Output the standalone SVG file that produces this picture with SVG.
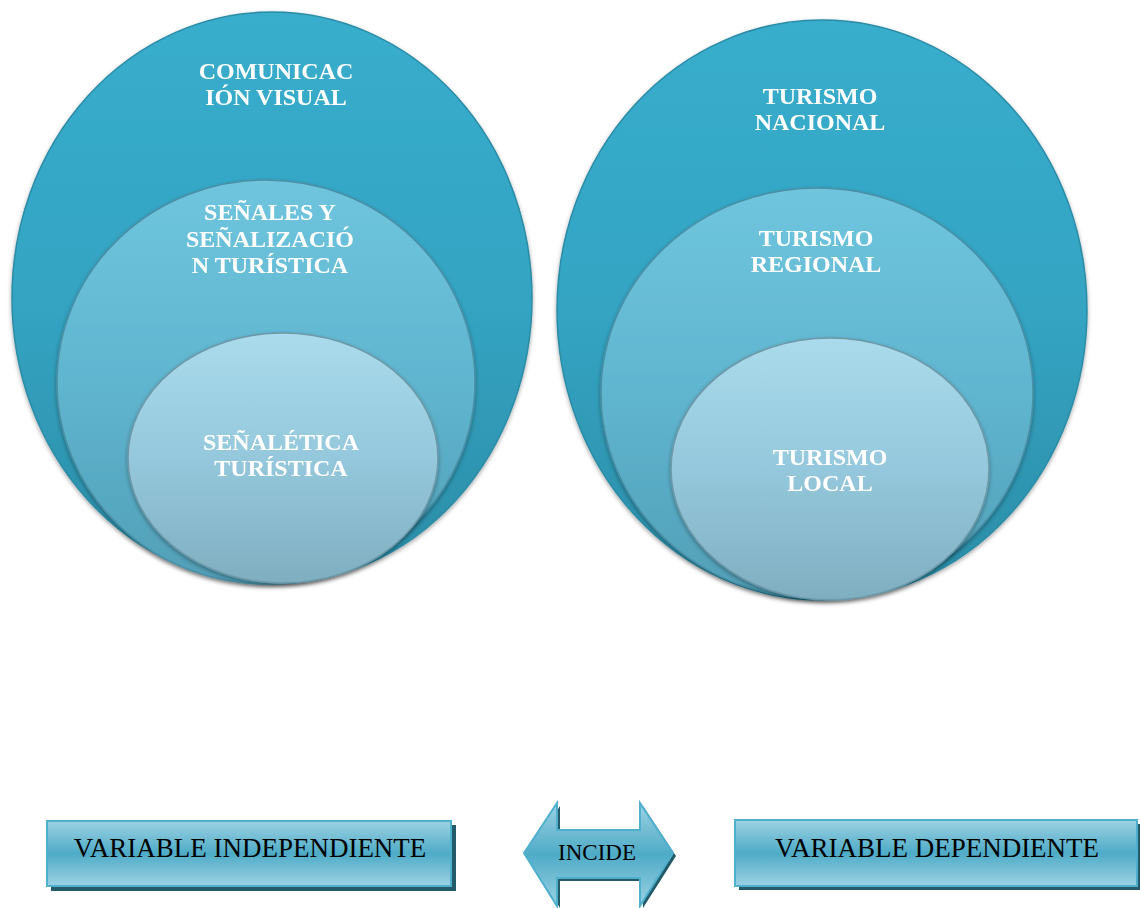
<svg xmlns="http://www.w3.org/2000/svg" width="1140" height="908" viewBox="0 0 1140 908">
<defs>
<linearGradient id="gOuter" x1="0" y1="0" x2="0" y2="1">
<stop offset="0" stop-color="#38adcc"/>
<stop offset="0.5" stop-color="#34a4c3"/>
<stop offset="1" stop-color="#2b8ca6"/>
</linearGradient>
<linearGradient id="gMid" x1="0" y1="0" x2="0" y2="1">
<stop offset="0" stop-color="#6fc5de"/>
<stop offset="0.5" stop-color="#60b5cf"/>
<stop offset="1" stop-color="#519fb7"/>
</linearGradient>
<linearGradient id="gIn" x1="0" y1="0" x2="0" y2="1">
<stop offset="0" stop-color="#a9dbec"/>
<stop offset="0.5" stop-color="#95c8dc"/>
<stop offset="1" stop-color="#80aec1"/>
</linearGradient>
<linearGradient id="gBox" x1="0" y1="0" x2="0" y2="1">
<stop offset="0" stop-color="#9dd2e3"/>
<stop offset="0.5" stop-color="#4eabc7"/>
<stop offset="1" stop-color="#9dd2e3"/>
</linearGradient>
<filter id="sh" x="-10%" y="-10%" width="120%" height="120%">
<feDropShadow dx="0" dy="2" stdDeviation="2" flood-color="#000" flood-opacity="0.35"/>
</filter>
</defs>
<style>
.o{fill:url(#gOuter);stroke:#2b8ca6;stroke-width:1.5}
.m{fill:url(#gMid);stroke:#4a8fa5;stroke-width:1.5}
.i{fill:url(#gIn);stroke:#6d98a8;stroke-width:1.5}
.t{font-family:"Liberation Serif",serif;font-weight:bold;font-size:24px;fill:#ffffff;text-anchor:middle}
.b{font-family:"Liberation Serif",serif;font-size:27px;fill:#000;text-anchor:middle}
.box{fill:url(#gBox);stroke:#4eb0cc;stroke-width:2}
.bs{fill:#235b6b}
</style>

<g id="left-outer" filter="url(#sh)">
<ellipse class="o" cx="272" cy="298" rx="260" ry="286"/>
<text class="t" x="276" y="79">COMUNICAC</text>
<text class="t" x="276" y="105">IÓN VISUAL</text>
</g>
<g id="left-middle" filter="url(#sh)">
<ellipse class="m" cx="266" cy="382" rx="209" ry="202"/>
<text class="t" x="270" y="220">SEÑALES Y</text>
<text class="t" x="270" y="247">SEÑALIZACIÓ</text>
<text class="t" x="270" y="273">N TURÍSTICA</text>
</g>
<g id="left-inner" filter="url(#sh)">
<ellipse class="i" cx="283" cy="458" rx="155" ry="125"/>
<text class="t" x="281" y="450">SEÑALÉTICA</text>
<text class="t" x="281" y="476">TURÍSTICA</text>
</g>

<g id="right-outer" filter="url(#sh)">
<ellipse class="o" cx="822" cy="310" rx="265" ry="290"/>
<text class="t" x="820" y="104">TURISMO</text>
<text class="t" x="820" y="130">NACIONAL</text>
</g>
<g id="right-middle" filter="url(#sh)">
<ellipse class="m" cx="817" cy="393" rx="216" ry="205"/>
<text class="t" x="816" y="246">TURISMO</text>
<text class="t" x="816" y="272">REGIONAL</text>
</g>
<g id="right-inner" filter="url(#sh)">
<ellipse class="i" cx="830" cy="469" rx="159" ry="131"/>
<text class="t" x="830" y="465">TURISMO</text>
<text class="t" x="830" y="491">LOCAL</text>
</g>

<g id="var-independiente">
<rect class="bs" x="51" y="825" width="405" height="66"/>
<rect class="box" x="47" y="821" width="404" height="65"/>
<text class="b" x="250" y="857">VARIABLE INDEPENDIENTE</text>
</g>

<g id="connectors">
<g id="incide">
<path class="bs" d="M527,856 L560,806 L560,833 L643,833 L643,806 L676,856 L643,908 L643,881 L560,881 L560,908 Z"/>
<path class="box" d="M524,853 L557,803 L557,830 L640,830 L640,803 L673,853 L640,906 L640,878 L557,878 L557,906 Z"/>
<text x="597" y="860" font-family="Liberation Serif, serif" font-size="23" fill="#000" text-anchor="middle">INCIDE</text>
</g>
</g>

<g id="var-dependiente">
<rect class="bs" x="739" y="824" width="403" height="66"/>
<rect class="box" x="735" y="820" width="402" height="66"/>
<text class="b" x="937" y="857">VARIABLE DEPENDIENTE</text>
</g>
</svg>
